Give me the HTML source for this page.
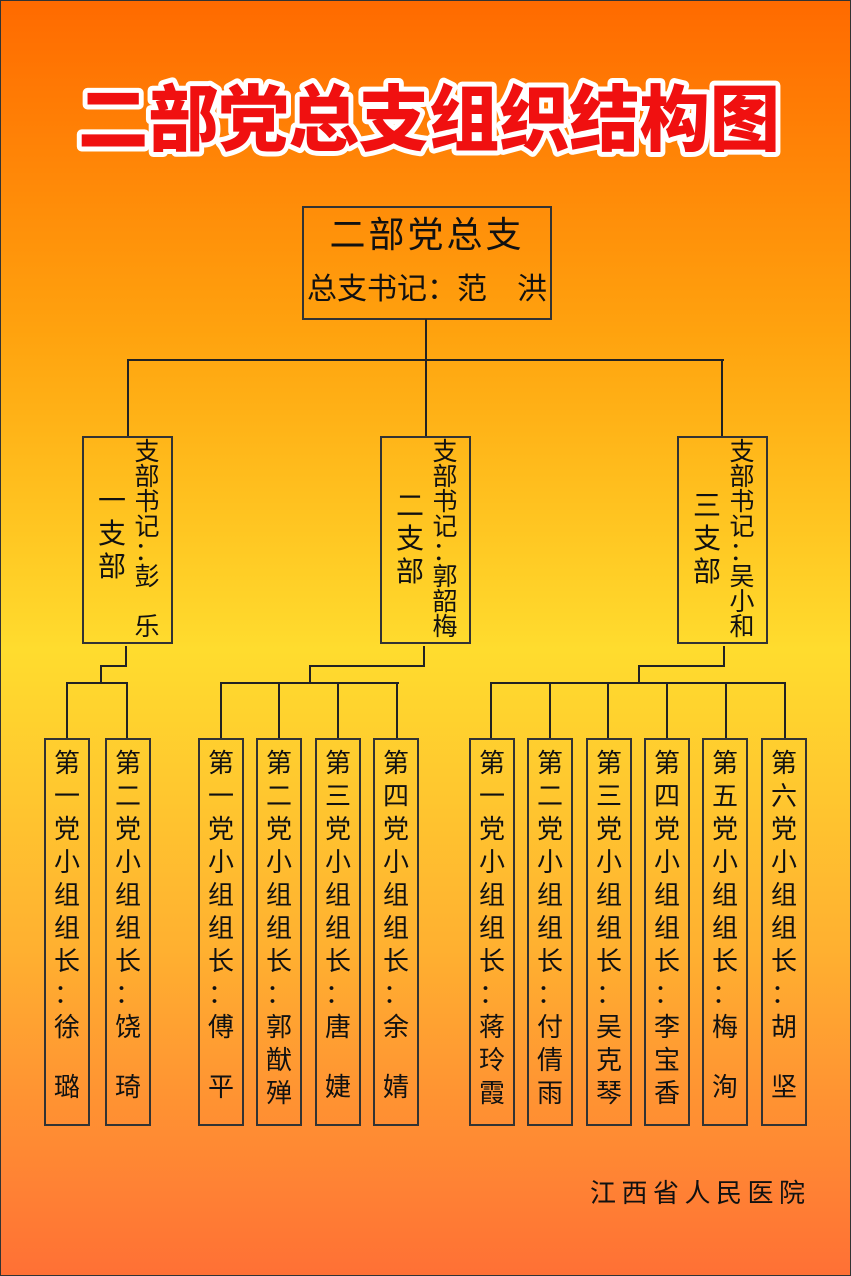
<!DOCTYPE html>
<html><head><meta charset="utf-8"><style>
html,body{margin:0;padding:0}
body{width:851px;height:1276px;position:relative;overflow:hidden;font-family:"Liberation Sans","Noto Sans CJK SC",sans-serif;color:#111;
background:linear-gradient(to bottom,#ff6a00 0px,#ffa20e 330px,#ffdc2e 650px,#ffb030 950px,#ff7035 1276px);}
.frame{position:absolute;left:0;top:0;width:849px;height:1274px;border:1px solid #333}
.b{position:absolute;border:2px solid #333;box-sizing:border-box}
.l{position:absolute;background:#222}
.h{height:2px}.v{width:2px}
.c{position:absolute;text-align:center}
.col{position:absolute;width:40px;text-align:center;font-size:26px;line-height:33px}
</style></head><body>
<div class="frame"></div>
<svg style="position:absolute;left:0;top:60px" width="851" height="120">
<text x="78" y="85" textLength="702" lengthAdjust="spacingAndGlyphs" font-family="Noto Sans CJK SC, sans-serif" font-weight="900" font-size="72" fill="#f01010" stroke="#fff" stroke-width="10" stroke-linejoin="round" paint-order="stroke">二部党总支组织结构图</text>
</svg>
<div class="b" style="left:302px;top:206px;width:250px;height:114px"></div>
<div class="c" style="left:302px;top:212px;width:250px;font-size:36px;line-height:46px;letter-spacing:3px">二部党总支</div>
<div class="c" style="left:302px;top:270px;width:250px;font-size:30px;line-height:40px;letter-spacing:0px">总支书记：范　洪</div>

<div class="l v" style="left:425px;top:319px;height:42px"></div>
<div class="l h" style="left:127px;top:359px;width:597px"></div>
<div class="l v" style="left:127px;top:359px;height:78px"></div>
<div class="l v" style="left:425px;top:359px;height:78px"></div>
<div class="l v" style="left:721px;top:359px;height:78px"></div>

<div class="b" style="left:82px;top:436px;width:91px;height:208px"></div>
<div class="col" style="left:127px;top:440px;width:40px;font-size:25px;line-height:25px">支<br>部<br>书<br>记<br>：<br>彭<br><br>乐</div>
<div class="col" style="left:92px;top:484px;font-size:28px;line-height:33px">一<br>支<br>部</div>

<div class="b" style="left:380px;top:436px;width:91px;height:208px"></div>
<div class="col" style="left:425px;top:440px;width:40px;font-size:25px;line-height:25px">支<br>部<br>书<br>记<br>：<br>郭<br>韶<br>梅</div>
<div class="col" style="left:390px;top:489px;font-size:28px;line-height:33px">二<br>支<br>部</div>

<div class="b" style="left:677px;top:436px;width:91px;height:208px"></div>
<div class="col" style="left:722px;top:440px;width:40px;font-size:25px;line-height:25px">支<br>部<br>书<br>记<br>：<br>吴<br>小<br>和</div>
<div class="col" style="left:687px;top:489px;font-size:28px;line-height:33px">三<br>支<br>部</div>

<div class="l v" style="left:125px;top:646px;height:21px"></div>
<div class="l h" style="left:100px;top:665px;width:27px"></div>
<div class="l v" style="left:100px;top:665px;height:18px"></div>
<div class="l h" style="left:66px;top:682px;width:62px"></div>
<div class="l v" style="left:66px;top:682px;height:56px"></div>
<div class="l v" style="left:126px;top:682px;height:56px"></div>

<div class="l v" style="left:423px;top:646px;height:21px"></div>
<div class="l h" style="left:309px;top:665px;width:116px"></div>
<div class="l v" style="left:309px;top:665px;height:18px"></div>
<div class="l h" style="left:220px;top:682px;width:179px"></div>
<div class="l v" style="left:220px;top:682px;height:56px"></div>
<div class="l v" style="left:278px;top:682px;height:56px"></div>
<div class="l v" style="left:337px;top:682px;height:56px"></div>
<div class="l v" style="left:396px;top:682px;height:56px"></div>

<div class="l v" style="left:723px;top:646px;height:21px"></div>
<div class="l h" style="left:638px;top:665px;width:87px"></div>
<div class="l v" style="left:638px;top:665px;height:18px"></div>
<div class="l h" style="left:490px;top:682px;width:296px"></div>
<div class="l v" style="left:490px;top:682px;height:56px"></div>
<div class="l v" style="left:549px;top:682px;height:56px"></div>
<div class="l v" style="left:607px;top:682px;height:56px"></div>
<div class="l v" style="left:666px;top:682px;height:56px"></div>
<div class="l v" style="left:725px;top:682px;height:56px"></div>
<div class="l v" style="left:784px;top:682px;height:56px"></div>

<div class="b" style="left:44px;top:738px;width:46px;height:388px"></div>
<div class="col" style="left:47px;top:747px">第<br>一<br>党<br>小<br>组<br>组<br>长<br>：<br>徐<div style="height:27px"></div>璐</div>
<div class="b" style="left:105px;top:738px;width:46px;height:388px"></div>
<div class="col" style="left:108px;top:747px">第<br>二<br>党<br>小<br>组<br>组<br>长<br>：<br>饶<div style="height:27px"></div>琦</div>

<div class="b" style="left:198px;top:738px;width:46px;height:388px"></div>
<div class="col" style="left:201px;top:747px">第<br>一<br>党<br>小<br>组<br>组<br>长<br>：<br>傅<div style="height:27px"></div>平</div>
<div class="b" style="left:256px;top:738px;width:46px;height:388px"></div>
<div class="col" style="left:259px;top:747px">第<br>二<br>党<br>小<br>组<br>组<br>长<br>：<br>郭<br>猷<br>殚</div>
<div class="b" style="left:315px;top:738px;width:46px;height:388px"></div>
<div class="col" style="left:318px;top:747px">第<br>三<br>党<br>小<br>组<br>组<br>长<br>：<br>唐<div style="height:27px"></div>婕</div>
<div class="b" style="left:373px;top:738px;width:46px;height:388px"></div>
<div class="col" style="left:376px;top:747px">第<br>四<br>党<br>小<br>组<br>组<br>长<br>：<br>余<div style="height:27px"></div>婧</div>

<div class="b" style="left:469px;top:738px;width:46px;height:388px"></div>
<div class="col" style="left:472px;top:747px">第<br>一<br>党<br>小<br>组<br>组<br>长<br>：<br>蒋<br>玲<br>霞</div>
<div class="b" style="left:527px;top:738px;width:46px;height:388px"></div>
<div class="col" style="left:530px;top:747px">第<br>二<br>党<br>小<br>组<br>组<br>长<br>：<br>付<br>倩<br>雨</div>
<div class="b" style="left:586px;top:738px;width:46px;height:388px"></div>
<div class="col" style="left:589px;top:747px">第<br>三<br>党<br>小<br>组<br>组<br>长<br>：<br>吴<br>克<br>琴</div>
<div class="b" style="left:644px;top:738px;width:46px;height:388px"></div>
<div class="col" style="left:647px;top:747px">第<br>四<br>党<br>小<br>组<br>组<br>长<br>：<br>李<br>宝<br>香</div>
<div class="b" style="left:702px;top:738px;width:46px;height:388px"></div>
<div class="col" style="left:705px;top:747px">第<br>五<br>党<br>小<br>组<br>组<br>长<br>：<br>梅<div style="height:27px"></div>洵</div>
<div class="b" style="left:761px;top:738px;width:46px;height:388px"></div>
<div class="col" style="left:764px;top:747px">第<br>六<br>党<br>小<br>组<br>组<br>长<br>：<br>胡<div style="height:27px"></div>坚</div>

<div class="c" style="left:590px;top:1176px;width:240px;font-size:26px;line-height:34px;letter-spacing:5.5px;text-align:left">江西省人民医院</div>
</body></html>
